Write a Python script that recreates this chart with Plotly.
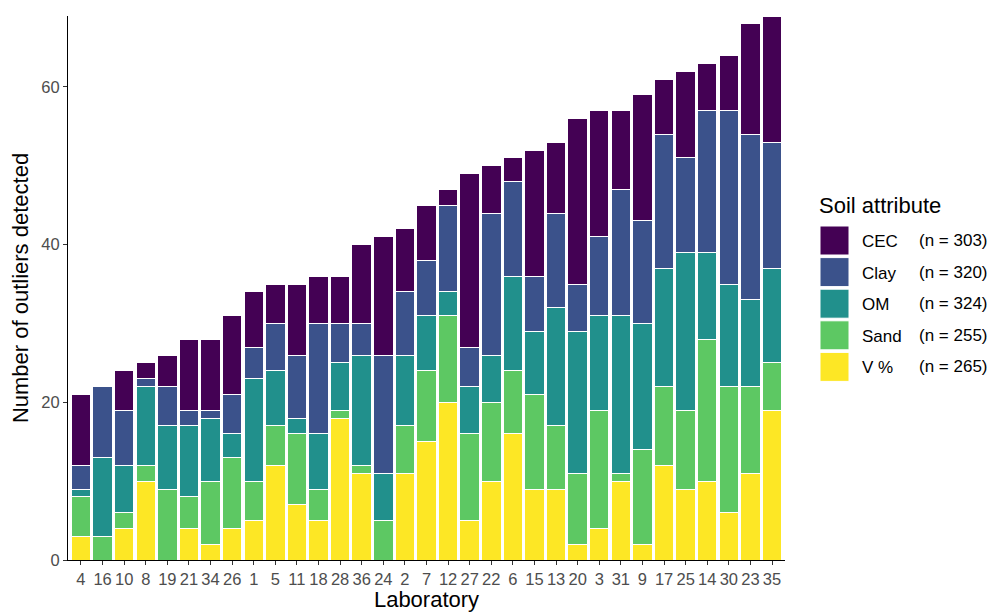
import plotly.graph_objects as go

# Laboratories, ordered by total outlier count
labs = ["4", "16", "10", "8", "19", "21", "34", "26", "1", "5", "11", "18", "28",
        "36", "24", "2", "7", "12", "27", "22", "6", "15", "13", "20", "3", "31",
        "9", "17", "25", "14", "30", "23", "35"]

# Outliers detected per soil attribute
cec = [9, 0, 5, 2, 4, 9, 9, 10, 7, 5, 9, 6, 6, 10, 15, 8, 7, 2, 22, 6, 3, 16,
       9, 21, 16, 10, 16, 7, 11, 6, 7, 14, 16]
clay = [3, 9, 7, 1, 5, 2, 1, 5, 4, 6, 8, 14, 5, 4, 15, 8, 7, 11, 5, 18, 12, 7,
        12, 6, 10, 16, 13, 17, 12, 18, 22, 21, 16]
om = [1, 10, 6, 10, 8, 9, 8, 3, 13, 7, 2, 7, 6, 14, 6, 9, 7, 3, 6, 6, 12, 8,
      15, 18, 12, 20, 16, 15, 20, 11, 13, 11, 12]
sand = [5, 3, 2, 2, 9, 4, 8, 9, 5, 5, 9, 4, 1, 1, 5, 6, 9, 11, 11, 10, 8, 12,
        8, 9, 15, 1, 12, 10, 10, 18, 16, 11, 6]
vpct = [3, 0, 4, 10, 0, 4, 2, 4, 5, 12, 7, 5, 18, 11, 0, 11, 15, 20, 5, 10, 16,
        9, 9, 2, 4, 10, 2, 12, 9, 10, 6, 11, 19]

attributes = ["CEC", "Clay", "OM", "Sand", "V %"]
series = [cec, clay, om, sand, vpct]
colors = ["#440154", "#3B528B", "#21908C", "#5DC863", "#FDE725"]

FONT = "Liberation Sans, Arial, sans-serif"
TITLE_SIZE = 22
TICK_SIZE = 16.5
KEY_TEXT_SIZE = 17

# Plot area in page pixels
W, H = 990, 612
L, R, T, B = 68, 785, 16, 560


def px_x(px):
    return (px - L) / (R - L)


def px_y(py):
    return (B - py) / (B - T)


fig = go.Figure()

# stack from the bottom: V%, Sand, OM, Clay, CEC
for name, vals, col in reversed(list(zip(attributes, series, colors))):
    fig.add_trace(go.Bar(
        x=labs, y=vals, name=name,
        marker=dict(color=col, line=dict(color="white", width=1)),
        width=0.9, showlegend=False,
        hovertemplate="Lab %{x}<br>" + name + ": %{y}<extra></extra>",
    ))

# legend drawn with large square keys
shapes = []
annotations = [dict(
    text="Soil attribute", x=px_x(817), y=px_y(205), xref="paper", yref="paper",
    xanchor="left", yanchor="middle", showarrow=False,
    font=dict(family=FONT, size=TITLE_SIZE, color="black"),
)]
key_top = 226
key_step = 31.6
key_size = 29
for i, (name, vals, col) in enumerate(zip(attributes, series, colors)):
    y0 = key_top + i * key_step
    shapes.append(dict(
        type="rect", xref="paper", yref="paper",
        x0=px_x(820), x1=px_x(820 + key_size),
        y0=px_y(y0 + key_size), y1=px_y(y0),
        fillcolor=col, line=dict(color="white", width=1),
    ))
    yc = y0 + key_size / 2 + 1
    annotations.append(dict(
        text=name, x=px_x(860), y=px_y(yc), xref="paper", yref="paper",
        xanchor="left", yanchor="middle", showarrow=False,
        font=dict(family=FONT, size=KEY_TEXT_SIZE, color="black"),
    ))
    annotations.append(dict(
        text=f"(n = {sum(vals)})", x=px_x(917), y=px_y(yc - 1), xref="paper",
        yref="paper", xanchor="left", yanchor="middle", showarrow=False,
        font=dict(family=FONT, size=KEY_TEXT_SIZE, color="black"),
    ))

fig.update_layout(
    width=W, height=H,
    margin=dict(l=L, r=W - R, t=T, b=H - B),
    barmode="stack", bargap=0.1,
    plot_bgcolor="white", paper_bgcolor="white",
    font=dict(family=FONT, color="black"),
    shapes=shapes, annotations=annotations,
    xaxis=dict(
        type="category", range=[-0.6, len(labs) - 0.4],
        showline=True, linecolor="black", linewidth=1.2,
        ticks="outside", ticklen=4, tickcolor="#333333", tickwidth=1.2,
        tickfont=dict(family=FONT, size=TICK_SIZE, color="#4D4D4D"),
        showgrid=False, zeroline=False, automargin=False,
        title=dict(text="Laboratory", font=dict(family=FONT, size=TITLE_SIZE),
                   standoff=2),
    ),
    yaxis=dict(
        range=[0, 69], tickvals=[0, 20, 40, 60],
        showline=True, linecolor="black", linewidth=1.2,
        ticks="outside", ticklen=4, tickcolor="#333333", tickwidth=1.2,
        tickfont=dict(family=FONT, size=TICK_SIZE, color="#4D4D4D"),
        showgrid=False, zeroline=False, automargin=False,
        title=dict(text="Number of outliers detected",
                   font=dict(family=FONT, size=TITLE_SIZE), standoff=6),
    ),
)

fig.write_html("out.html")
